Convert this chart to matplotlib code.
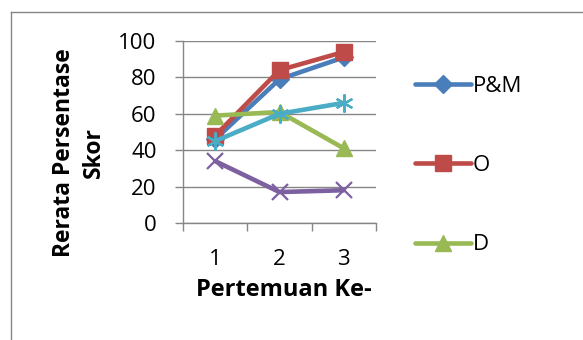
import matplotlib
matplotlib.use("Agg")
import matplotlib.pyplot as plt
from matplotlib.lines import Line2D

plt.rcParams["font.family"] = ["Open Sans", "DejaVu Sans"]

# data
meetings = ["1", "2", "3"]
series_names = ["P&M", "O", "D", "E", "K"]
pm_vals = [46, 79, 91]
o_vals = [48, 84, 94]
d_vals = [59, 61, 41]
e_vals = [34, 17, 18]
k_vals = [45, 60, 66]

colors = ["#4A7EBB", "#BE4B48", "#98B954", "#7D60A0", "#4BACC6"]
markers = ["D", "s", "^", "x", (6, 2, 0)]
msizes = [9, 11, 11, 11, 13]

fig = plt.figure(figsize=(5.83, 3.4), dpi=100)
ax = fig.add_axes([183 / 583, 1 - 223 / 340, 193 / 583, 182 / 340])

xs = [i + 0.5 for i in range(len(meetings))]
all_vals = [pm_vals, o_vals, d_vals, e_vals, k_vals]
handles = []
for name, vals, c, m, ms in zip(series_names, all_vals, colors, markers, msizes):
    h, = ax.plot(xs, vals, color=c, lw=3.3, marker=m, markersize=ms,
                 markeredgecolor=c, markeredgewidth=1.6 if m in ("x", (6, 2, 0)) else 1,
                 solid_capstyle="round", label=name)
    handles.append(h)

ax.set_xlim(0, 3)
ax.set_ylim(0, 100)
ax.set_yticks(range(0, 101, 20))
ax.set_xticks([0, 1, 2, 3])
ax.set_xticklabels([])
ax.set_xticks(xs, minor=True)
ax.set_xticklabels(meetings, minor=True)
ax.tick_params(axis="x", which="major", length=6, color="#868686", width=1)
ax.tick_params(axis="x", which="minor", length=0, pad=19, labelsize=16)
ax.tick_params(axis="y", length=6, color="#868686", width=1, labelsize=16, pad=13)
ax.grid(axis="y", color="#868686", lw=1)
ax.set_axisbelow(True)
for s in ["top", "right"]:
    ax.spines[s].set_visible(False)
for s in ["left", "bottom"]:
    ax.spines[s].set_color("#868686")
    ax.spines[s].set_linewidth(1)

ax.set_xlabel("Pertemuan Ke-", fontsize=17, fontweight="bold")
ax.xaxis.set_label_coords(0.525, -0.368)
ax.xaxis.label.set_va("center")
ax.set_ylabel("Rerata Persentase\nSkor", fontsize=16.5, fontweight="bold",
              linespacing=1.35)
ax.yaxis.set_label_coords(-0.539, 0.385)
ax.yaxis.label.set_va("center")

fig.legend(handles=handles[:3], loc="upper left",
           bbox_to_anchor=(415 / 583, 1 - 76 / 340), frameon=False,
           fontsize=16, handlelength=2.5, handletextpad=0.1,
           labelspacing=2.62, borderpad=0, borderaxespad=0)

# outer chart frame (only left and top edges visible in the crop)
fig.add_artist(Line2D([11 / 583, 11 / 583], [0, 1 - 12 / 340],
                      transform=fig.transFigure, color="#868686", lw=1))
fig.add_artist(Line2D([11 / 583, 1], [1 - 12 / 340, 1 - 12 / 340],
                      transform=fig.transFigure, color="#868686", lw=1))

fig.savefig("out.png", dpi=100)
